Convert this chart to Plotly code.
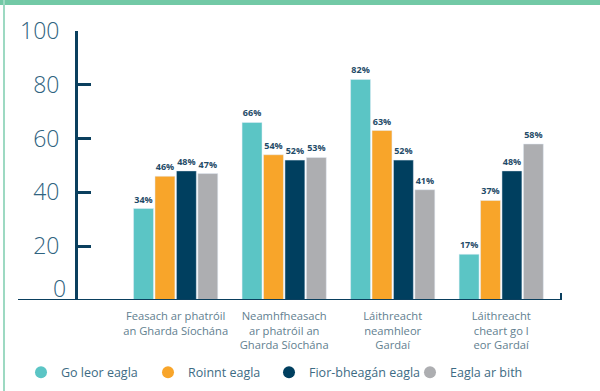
import plotly.graph_objects as go

categories = [
    "Feasach ar phatróil<br>an Gharda Síochána",
    "Neamhfheasach<br>ar phatróil an<br>Gharda Síochána",
    "Láithreacht<br>neamhleor<br>Gardaí",
    "Láithreacht<br>cheart go l<br>eor Gardaí",
]
series_names = ["Go leor eagla", "Roinnt eagla", "Fior-bheagán eagla", "Eagla ar bith"]
go_leor = [34, 66, 82, 17]
roinnt = [46, 54, 63, 37]
fior_bheagan = [48, 52, 52, 48]
ar_bith = [47, 53, 41, 58]
y_ticks = [20, 40, 60, 80, 100]

colors = ["#5bc5c5", "#f8a52a", "#003f5f", "#adaeb1"]
navy = "#0a3f5e"
font = "Open Sans"

L, R, T, B = 78, 38, 31, 91
W, H = 600, 391
W_PLOT = W - L - R
H_PLOT = H - T - B


def px_x(p):
    return (p - L) / W_PLOT


def px_y(p):
    return (H - B - p) / H_PLOT


legend_ids = ["legend", "legend2", "legend3", "legend4"]
legend_left_px = [21, 148, 269, 410]

fig = go.Figure()
for name, vals, col in zip(series_names, [go_leor, roinnt, fior_bheagan, ar_bith], colors):
    fig.add_trace(go.Bar(
        x=categories, y=vals, marker_color=col, showlegend=False,
        texttemplate="%{y}%", textposition="outside", cliponaxis=False,
        textfont=dict(family=font, size=9, color="#1f4b68", weight="bold"),
        hoverinfo="skip",
    ))
for name, col, lid in zip(series_names, colors, legend_ids):
    fig.add_trace(go.Scatter(
        x=[None], y=[None], mode="markers", name=name, legend=lid,
        marker=dict(symbol="circle", size=12, color=col),
    ))

legend_common = dict(
    orientation="h", xanchor="left", y=-0.27, yanchor="middle",
    font=dict(family=font, size=12.5, color="#3d6b84"),
    bgcolor="rgba(0,0,0,0)",
)
layout_legends = {}
for lid, lx in zip(legend_ids, legend_left_px):
    layout_legends[lid] = dict(legend_common, x=px_x(lx))

fig.update_layout(
    width=W, height=H,
    margin=dict(l=L, r=R, t=T, b=B, autoexpand=False),
    paper_bgcolor="white", plot_bgcolor="white",
    barmode="group", bargap=0.21, bargroupgap=0.07,
    font=dict(family=font),
    showlegend=True,
    xaxis=dict(
        type="category", range=[-0.9, 3.56], showline=False, showgrid=False,
        ticks="", tickfont=dict(family=font, size=11.2, color="#62808f"),
        ticklabelstandoff=8, zeroline=False, automargin=False,
    ),
    yaxis=dict(
        range=[0, 100], showline=True, linewidth=3, linecolor=navy,
        ticks="inside", ticklen=13, tickwidth=3, tickcolor=navy,
        tickvals=y_ticks, ticktext=[str(v) for v in y_ticks],
        tickfont=dict(family=font, size=23, color="#2f6380", weight=300),
        ticklabelstandoff=11, automargin=False,
        showgrid=False, zeroline=False,
    ),
    **layout_legends,
)

# page border decorations
fig.add_shape(type="line", xref="paper", yref="paper",
              x0=px_x(0), x1=px_x(600), y0=px_y(2.5), y1=px_y(2.5),
              line=dict(color="#72c9a6", width=5))
fig.add_shape(type="line", xref="paper", yref="paper",
              x0=px_x(4), x1=px_x(4), y0=px_y(0), y1=px_y(391),
              line=dict(color="#9dd9c2", width=2))
# x axis baseline with end stub
fig.add_shape(type="line", xref="paper", yref="y",
              x0=px_x(18), x1=px_x(561), y0=0, y1=0,
              line=dict(color=navy, width=2))
fig.add_shape(type="line", xref="paper", yref="y",
              x0=px_x(561), x1=px_x(561), y0=0, y1=2.6,
              line=dict(color=navy, width=2))
fig.add_annotation(x=0, y=0, xref="paper", yref="y", text="0", showarrow=False,
                   xanchor="right", yanchor="middle", xshift=-10, yshift=12,
                   font=dict(family=font, size=23, color="#2f6380", weight=300))

fig.write_html("out.html", config={"displayModeBar": False},
               post_script="document.body.style.margin='0';")
